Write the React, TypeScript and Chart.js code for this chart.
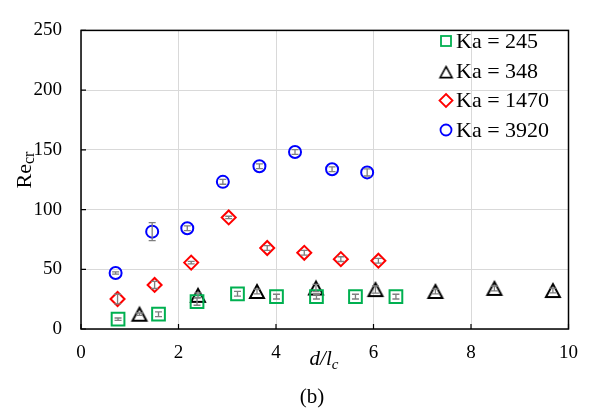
import React, { useEffect, useRef } from "react";
import { Chart, registerables } from "chart.js";

Chart.register(...registerables);

const FONT = '"Liberation Serif", "Times New Roman", serif';

const ka245X = [0.76, 1.59, 2.38, 3.21, 4.01, 4.83, 5.63, 6.46];
const ka245Y = [8.2, 12.4, 22.9, 29.5, 27.1, 27.1, 27.1, 27.1];
const ka245Err = [1, 2, 3, 2, 2, 2, 2, 2];

const ka348X = [1.2, 2.4, 3.61, 4.82, 6.04, 7.27, 8.48, 9.68];
const ka348Y = [12.4, 28.2, 31.4, 34.3, 33.0, 31.4, 34.0, 32.2];
const ka348Err = [1, 2, 2, 3, 3, 2, 2, 2];

const ka1470X = [0.75, 1.51, 2.26, 3.03, 3.82, 4.58, 5.33, 6.1];
const ka1470Y = [25.1, 36.9, 55.6, 93.4, 67.8, 63.8, 58.5, 57.2];
const ka1470Err = [4, 3, 1, 1, 2, 2, 2, 2];

const ka3920X = [0.71, 1.46, 2.18, 2.91, 3.66, 4.39, 5.15, 5.87];
const ka3920Y = [46.9, 81.5, 84.4, 123.2, 136.3, 148.2, 133.7, 131.1];
const ka3920Err = [1, 7.5, 2, 2, 2, 2, 2, 3];

const seriesLabels = ["Ka = 245", "Ka = 348", "Ka = 1470", "Ka = 3920"];
const xTicks = [0, 2, 4, 6, 8, 10];
const yTicks = [0, 50, 100, 150, 200, 250];

function makeTriangle(size: number, color: string, lw: number) {
  const c = document.createElement("canvas");
  const w = size + lw * 2 + 2;
  const h = Math.round(size * 0.9) + lw * 2 + 2;
  c.width = w;
  c.height = h;
  const ctx = c.getContext("2d")!;
  ctx.strokeStyle = color;
  ctx.lineWidth = lw;
  ctx.lineJoin = "miter";
  ctx.beginPath();
  ctx.moveTo(w / 2, lw + 1);
  ctx.lineTo(w - lw - 1, h - lw - 1);
  ctx.lineTo(lw + 1, h - lw - 1);
  ctx.closePath();
  ctx.stroke();
  return c;
}

function pts(xs: number[], ys: number[]) {
  return xs.map((x, i) => ({ x, y: ys[i] }));
}

export default function App() {
  const ref = useRef<HTMLCanvasElement>(null);

  useEffect(() => {
    const canvas = ref.current!;
    const tri = makeTriangle(14, "#000000", 2);
    const triLegend = makeTriangle(12, "#000000", 1.6);

    const errs = [ka245Err, ka348Err, ka1470Err, ka3920Err];

    const decor = {
      id: "decor",
      afterDatasetsDraw(chart: any) {
        const ctx = chart.ctx;
        const xs = chart.scales.x;
        const ys = chart.scales.y;
        const a = chart.chartArea;
        ctx.save();
        // error bars
        ctx.strokeStyle = "#7f7f7f";
        ctx.lineWidth = 1.3;
        chart.data.datasets.forEach((ds: any, di: number) => {
          const e = errs[di];
          ds.data.forEach((p: any, i: number) => {
            const px = xs.getPixelForValue(p.x);
            const y1 = ys.getPixelForValue(p.y - e[i]);
            const y2 = ys.getPixelForValue(p.y + e[i]);
            ctx.beginPath();
            ctx.moveTo(px, y1);
            ctx.lineTo(px, y2);
            ctx.moveTo(px - 3.5, y1);
            ctx.lineTo(px + 3.5, y1);
            ctx.moveTo(px - 3.5, y2);
            ctx.lineTo(px + 3.5, y2);
            ctx.stroke();
          });
        });
        // frame
        ctx.strokeStyle = "#000000";
        ctx.lineWidth = 1.5;
        ctx.strokeRect(a.left, a.top, a.right - a.left, a.bottom - a.top);
        // inward tick marks
        ctx.lineWidth = 1.2;
        ctx.beginPath();
        xTicks.forEach((t) => {
          const px = xs.getPixelForValue(t);
          ctx.moveTo(px, a.bottom);
          ctx.lineTo(px, a.bottom - 5);
        });
        yTicks.forEach((t) => {
          const py = ys.getPixelForValue(t);
          ctx.moveTo(a.left, py);
          ctx.lineTo(a.left + 5, py);
        });
        ctx.stroke();

        // legend
        const rows = [41, 71, 100.5, 130];
        const mx = 446;
        ctx.font = `22px ${FONT}`;
        ctx.fillStyle = "#000000";
        ctx.textBaseline = "middle";
        ctx.textAlign = "left";
        rows.forEach((ry, i) => {
          ctx.lineWidth = 1.8;
          if (i === 0) {
            ctx.strokeStyle = "#00b050";
            ctx.strokeRect(mx - 5, ry - 5, 10, 10);
          } else if (i === 1) {
            ctx.drawImage(triLegend, mx - triLegend.width / 2, ry - triLegend.height / 2 + 1);
          } else if (i === 2) {
            ctx.strokeStyle = "#ff0000";
            ctx.beginPath();
            ctx.moveTo(mx, ry - 6.5);
            ctx.lineTo(mx + 6.5, ry);
            ctx.lineTo(mx, ry + 6.5);
            ctx.lineTo(mx - 6.5, ry);
            ctx.closePath();
            ctx.stroke();
          } else {
            ctx.strokeStyle = "#0000ff";
            ctx.beginPath();
            ctx.arc(mx, ry, 5.5, 0, Math.PI * 2);
            ctx.stroke();
          }
          ctx.fillStyle = "#000000";
          ctx.fillText(seriesLabels[i], 456, ry + 1);
        });

        // x title d/l_c
        ctx.textBaseline = "alphabetic";
        ctx.font = `italic 21px ${FONT}`;
        const main = "d/l";
        const mw = ctx.measureText(main).width;
        ctx.font = `italic 15px ${FONT}`;
        const sw = ctx.measureText("c").width;
        const startX = 324 - (mw + sw) / 2;
        ctx.font = `italic 21px ${FONT}`;
        ctx.fillText(main, startX, 365);
        ctx.font = `italic 15px ${FONT}`;
        ctx.fillText("c", startX + mw, 369);

        // (b)
        ctx.font = `21px ${FONT}`;
        ctx.textAlign = "center";
        ctx.fillText("(b)", 312, 403);

        // y title Re_cr
        ctx.save();
        ctx.translate(31, 170);
        ctx.rotate(-Math.PI / 2);
        ctx.textAlign = "left";
        ctx.font = `22px ${FONT}`;
        const rw = ctx.measureText("Re").width;
        ctx.font = `16px ${FONT}`;
        const cw = ctx.measureText("cr").width;
        const sx = -(rw + cw) / 2;
        ctx.font = `22px ${FONT}`;
        ctx.fillText("Re", sx, 0);
        ctx.font = `16px ${FONT}`;
        ctx.fillText("cr", sx + rw, 3);
        ctx.restore();

        ctx.restore();
      },
    };

    const chart = new Chart(canvas, {
      type: "scatter",
      data: {
        datasets: [
          {
            label: seriesLabels[0],
            data: pts(ka245X, ka245Y),
            pointStyle: "rect",
            pointRadius: 9,
            borderColor: "#00b050",
            backgroundColor: "rgba(0,0,0,0)",
            borderWidth: 2,
          },
          {
            label: seriesLabels[1],
            data: pts(ka348X, ka348Y),
            pointStyle: tri as any,
            pointRadius: 8,
            borderColor: "#000000",
            backgroundColor: "rgba(0,0,0,0)",
            borderWidth: 2,
          },
          {
            label: seriesLabels[2],
            data: pts(ka1470X, ka1470Y),
            pointStyle: "rectRot",
            pointRadius: 7,
            borderColor: "#ff0000",
            backgroundColor: "rgba(0,0,0,0)",
            borderWidth: 2,
          },
          {
            label: seriesLabels[3],
            data: pts(ka3920X, ka3920Y),
            pointStyle: "circle",
            pointRadius: 6,
            borderColor: "#0000ff",
            backgroundColor: "rgba(0,0,0,0)",
            borderWidth: 2,
          },
        ],
      },
      options: {
        animation: false,
        responsive: false,
        devicePixelRatio: 1,
        layout: { padding: { left: 0, top: 13, right: 22, bottom: 0 } },
        plugins: { legend: { display: false }, tooltip: { enabled: false } },
        scales: {
          x: {
            type: "linear",
            min: 0,
            max: 10,
            afterFit: (s: any) => {
              s.height = 88;
            },
            afterBuildTicks: (s: any) => {
              s.ticks = xTicks.map((v) => ({ value: v }));
            },
            grid: { color: "#d9d9d9", lineWidth: 1, drawTicks: false },
            border: { display: false },
            ticks: {
              padding: 13,
              color: "#000000",
              font: { family: FONT, size: 19 },
              maxRotation: 0,
            },
          },
          y: {
            type: "linear",
            min: 0,
            max: 250,
            afterFit: (s: any) => {
              s.width = 81;
            },
            afterBuildTicks: (s: any) => {
              s.ticks = yTicks.map((v) => ({ value: v }));
            },
            grid: { color: "#d9d9d9", lineWidth: 1, drawTicks: false },
            border: { display: false },
            ticks: {
              padding: 19,
              color: "#000000",
              font: { family: FONT, size: 19 },
            },
          },
        },
      },
      plugins: [decor],
    } as any);

    return () => chart.destroy();
  }, []);

  return (
    <div style={{ position: "absolute", left: 0, top: 0, width: 591, height: 417, background: "#ffffff" }}>
      <canvas ref={ref} width={591} height={417} style={{ display: "block", width: 591, height: 417 }} />
    </div>
  );
}
